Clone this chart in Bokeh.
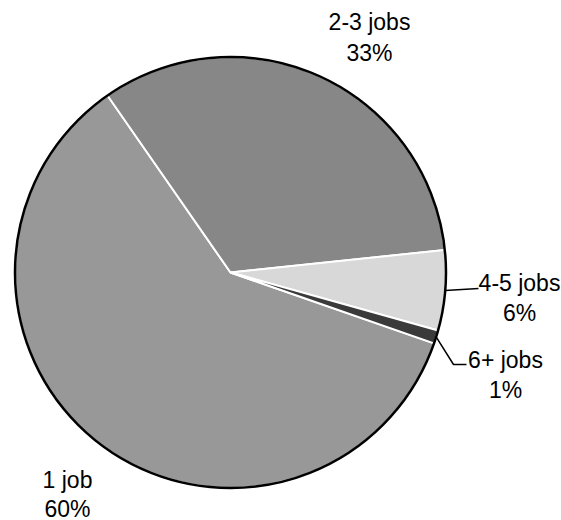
import math
from bokeh.plotting import figure
from bokeh.models import ColumnDataSource, Range1d
from bokeh.core.properties import value
from bokeh.embed import file_html
from bokeh.resources import INLINE

# ---- data ----
categories = ["1 job", "2-3 jobs", "4-5 jobs", "6+ jobs"]
shares = [60, 33, 6, 1]
pct_labels = ["60%", "33%", "6%", "1%"]
colors = ["#989898", "#878787", "#d8d8d8", "#3a3a3a"]

# ---- layout (page pixel coordinates) ----
W, H = 561, 520
def X(px): return px
def Y(py): return H - py

cx, cy, R = X(230), Y(272), 215.5
first_start_deg = -19.2   # 1 job slice starts here and runs clockwise

total = float(sum(shares))
starts, ends = [], []
a = math.radians(first_start_deg)
for v in shares:
    sweep = 2 * math.pi * v / total
    starts.append(a)
    ends.append(a - sweep)
    a -= sweep

src = ColumnDataSource(dict(cat=categories, start=starts, end=ends, color=colors,
                            x=[cx] * 4, y=[cy] * 4))

p = figure(width=W, height=H, x_range=Range1d(0, W), y_range=Range1d(0, H),
           output_backend="svg", toolbar_location=None, min_border=0)
p.axis.visible = False
p.grid.visible = False
p.outline_line_color = None
p.background_fill_color = "white"

p.wedge(x="x", y="y", radius=R, start_angle="start", end_angle="end",
        direction="clock", fill_color="color", line_color="white", line_width=2,
        source=src)
p.arc(x=[cx], y=[cy], radius=R, start_angle=0, end_angle=2 * math.pi,
      line_color="black", line_width=2.5)

font = value("Liberation Sans")
FS = "23px"

# label placement: (center x, baseline y of first line, line gap) in page px
label_pos = {
    "1 job": (67, 479, 29),
    "2-3 jobs": (369, 21, 31),
    "4-5 jobs": (519, 282, 30),
    "6+ jobs": (505, 359, 30),
}
# leader elbows (page px) for small slices
leaders = {
    "4-5 jobs": [(478, 288)],
    "6+ jobs": [(453, 364), (466, 364)],
}

for i, c in enumerate(categories):
    lx, ly, gap = label_pos[c]
    p.text(x=[X(lx), X(lx)], y=[Y(ly), Y(ly + gap)], text=[c, pct_labels[i]],
           text_font=font, text_font_size=FS, text_align="center",
           text_baseline="alphabetic", text_color="black")
    if c in leaders:
        mid = (starts[i] + ends[i]) / 2
        xs = [cx + R * math.cos(mid)] + [X(px) for px, _ in leaders[c]]
        ys = [cy + R * math.sin(mid)] + [Y(py) for _, py in leaders[c]]
        p.line(xs, ys, line_color="black", line_width=1.5)

open("out.html", "w").write(file_html(p, INLINE))
